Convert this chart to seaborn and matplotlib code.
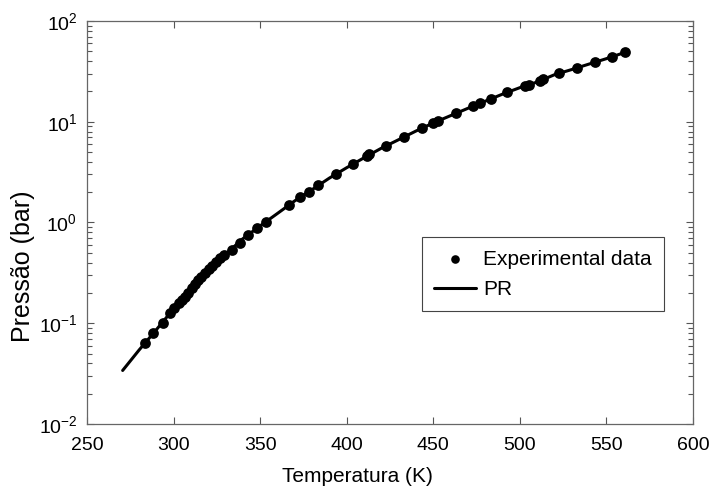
import matplotlib
matplotlib.use('Agg')
import matplotlib.pyplot as plt
import seaborn as sns
import pandas as pd
from matplotlib.ticker import FixedLocator, NullFormatter

T_exp = [283.5, 288.1, 293.9, 297.9, 300.5, 303.1, 305.0, 306.6, 308.5, 310.7,
         312.3, 314.1, 316.0, 318.2, 320.2, 322.2, 324.5, 326.8, 329.0, 333.8,
         338.4, 343.0, 348.2, 353.4, 366.7, 373.1, 378.2, 383.4, 393.8, 403.7,
         411.8, 412.9, 422.7, 433.1, 443.5, 449.9, 452.8, 463.2, 473.0, 477.0,
         483.4, 492.6, 503.0, 505.3, 511.7, 513.4, 522.7, 533.1, 543.5, 553.3,
         560.8]
P_exp = [0.0637, 0.080, 0.1005, 0.1264, 0.142, 0.159, 0.171, 0.182, 0.200, 0.224,
         0.245, 0.269, 0.291, 0.315, 0.342, 0.370, 0.405, 0.444, 0.480, 0.533,
         0.626, 0.752, 0.882, 1.01, 1.49, 1.79, 2.01, 2.36, 3.03, 3.81,
         4.57, 4.79, 5.74, 7.06, 8.67, 9.72, 10.2, 12.2, 14.3, 15.3,
         16.8, 19.7, 22.6, 23.2, 25.4, 26.6, 30.5, 34.1, 39.2, 44.0,
         49.2]

# PR model curve
T_pr = [270.6, 280, 290, 300, 310, 320, 330, 340, 350, 360, 370, 380, 390, 400,
        410, 420, 430, 440, 450, 460, 470, 480, 490, 500, 510, 520, 530, 540,
        550, 561]
P_pr = [0.034, 0.054, 0.086, 0.139, 0.216, 0.339, 0.483, 0.690, 0.925, 1.23,
        1.64, 2.12, 2.76, 3.50, 4.39, 5.46, 6.64, 8.09, 9.73, 11.5, 13.6, 16.0,
        18.8, 21.8, 24.8, 29.3, 33.0, 37.4, 42.3, 49.0]

x_ticks = [250, 300, 350, 400, 450, 500, 550, 600]
y_decades = [1e-2, 1e-1, 1e0, 1e1]

sns.set_style('ticks')
plt.rcParams['font.family'] = ['Liberation Sans', 'DejaVu Sans']
plt.rcParams['mathtext.fontset'] = 'custom'
plt.rcParams['mathtext.rm'] = 'Liberation Sans'
plt.rcParams['mathtext.it'] = 'Liberation Sans'
plt.rcParams['mathtext.sf'] = 'Liberation Sans'
plt.rcParams['xtick.direction'] = 'in'
plt.rcParams['ytick.direction'] = 'in'
plt.rcParams['text.color'] = 'black'
plt.rcParams['axes.labelcolor'] = 'black'

df_exp = pd.DataFrame({'T': T_exp, 'P': P_exp})
df_pr = pd.DataFrame({'T': T_pr, 'P': P_pr})

fig = plt.figure(figsize=(7.13, 4.94), dpi=100)
ax = fig.add_axes([0.122, 0.1417, 0.850, 0.8158])

sns.lineplot(data=df_pr, x='T', y='P', ax=ax, color='black', linewidth=2.2,
             label='PR', sort=False, zorder=2)
sns.scatterplot(data=df_exp, x='T', y='P', ax=ax, color='black', s=60,
                edgecolor='black', linewidth=0, label='Experimental data', zorder=3)

ax.set_yscale('log')
ax.set_xlim(250, 600)
ax.set_ylim(1e-2, 1e2)
ax.set_xticks(x_ticks)
minor_y = [d * k for d in y_decades for k in range(2, 10)]
ax.yaxis.set_minor_locator(FixedLocator(minor_y))
ax.yaxis.set_minor_formatter(NullFormatter())

ax.tick_params(axis='both', which='both', top=True, right=True, colors='#555555',
               labelcolor='black', labelsize=14)
ax.tick_params(axis='both', which='major', length=5, width=0.8)
ax.tick_params(axis='y', which='minor', left=True, right=True, length=3.5, width=0.8)
ax.tick_params(axis='x', which='minor', bottom=False, top=False)
ax.tick_params(axis='x', which='major', pad=9)
ax.tick_params(axis='y', which='major', pad=7)
for sp in ax.spines.values():
    sp.set_color('#666666')
    sp.set_linewidth(0.9)

ax.set_xlabel('Temperatura (K)', fontsize=15)
ax.set_ylabel('Pressão (bar)', fontsize=18)
ax.xaxis.set_label_coords(0.447, -0.107)
ax.yaxis.set_label_coords(-0.086, 0.392)

handles, labels = ax.get_legend_handles_labels()
order = [labels.index('Experimental data'), labels.index('PR')]
leg = ax.legend([handles[i] for i in order], [labels[i] for i in order],
                loc='upper left', bbox_to_anchor=(0.552, 0.464), fontsize=15,
                frameon=True, fancybox=False, framealpha=1, edgecolor='#444444',
                handlelength=2.0, handletextpad=0.35, labelspacing=0.55,
                borderpad=0.6, borderaxespad=0, markerscale=0.8)
leg.get_frame().set_linewidth(0.8)

fig.savefig('out.png', dpi=100)
